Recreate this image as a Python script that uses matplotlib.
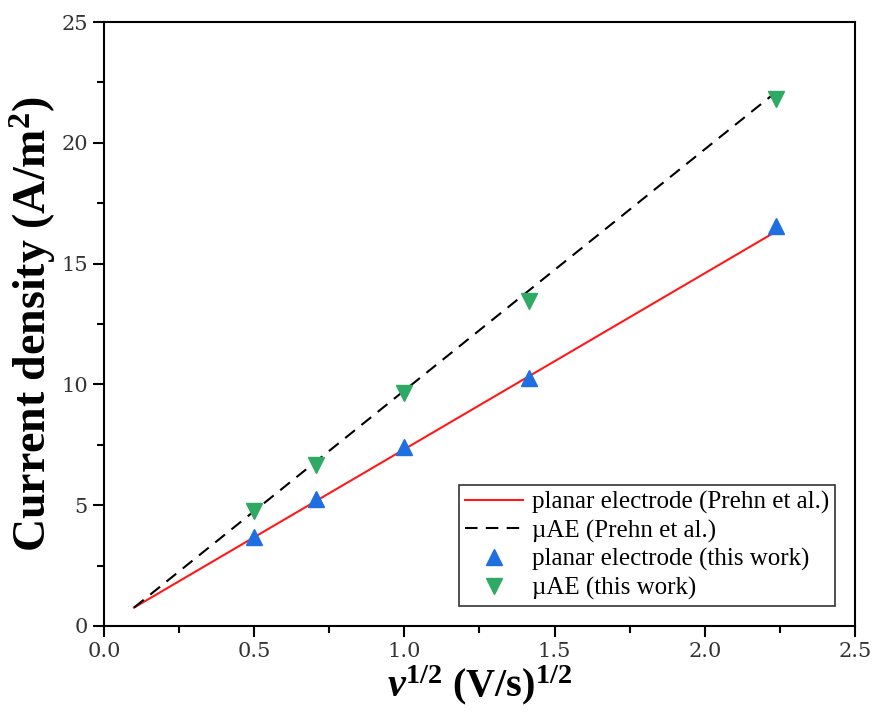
import matplotlib.pyplot as plt
from matplotlib.ticker import MultipleLocator

plt.rcParams['mathtext.fontset'] = 'custom'
plt.rcParams['mathtext.rm'] = 'Liberation Serif'
plt.rcParams['mathtext.it'] = 'Liberation Serif:italic'
plt.rcParams['mathtext.bf'] = 'Liberation Serif:bold'
plt.rcParams['mathtext.bfit'] = 'Liberation Serif:italic:bold'

# square root of scan rate, (V/s)^1/2
sqrt_scan_rate = [0.5, 0.707, 1.0, 1.414, 2.236]
planar_this_work = [3.68, 5.26, 7.41, 10.26, 16.55]
uae_this_work = [4.76, 6.66, 9.64, 13.47, 21.81]

# Prehn et al. reference lines
prehn_x = [0.1, 2.236]
prehn_planar = [0.76, 16.32]
prehn_uae = [0.76, 22.09]

fig = plt.figure(figsize=(8.81, 7.22), dpi=100)
ax = fig.add_axes([0.118, 0.133, 0.8525, 0.8365])

ax.plot(prehn_x, prehn_planar, color='#ff1a1a', lw=1.5, label='planar electrode (Prehn et al.)')
ax.plot(prehn_x, prehn_uae, color='black', lw=1.5, ls=(0, (6, 4)), label='\u00b5AE (Prehn et al.)')
ax.plot(sqrt_scan_rate, planar_this_work, ls='none', marker='^', ms=12,
        color='#1f6fe0', label='planar electrode (this work)')
ax.plot(sqrt_scan_rate, uae_this_work, ls='none', marker='v', ms=12,
        color='#2eaa64', label='\u00b5AE (this work)')

ax.set_xlim(0, 2.5)
ax.set_ylim(0, 25)
ax.xaxis.set_major_locator(MultipleLocator(0.5))
ax.xaxis.set_minor_locator(MultipleLocator(0.25))
ax.yaxis.set_major_locator(MultipleLocator(5))
ax.yaxis.set_minor_locator(MultipleLocator(2.5))
ax.set_xticklabels([f'{v:.1f}' for v in ax.get_xticks()])
ax.tick_params(which='major', direction='out', length=8, width=1.5, labelsize=15)
ax.tick_params(which='minor', direction='out', length=5, width=1.5)
for lab in ax.get_xticklabels() + ax.get_yticklabels():
    lab.set_fontfamily('DejaVu Serif')
    lab.set_color('#333333')
for sp in ax.spines.values():
    sp.set_linewidth(1.5)

ax.set_xlabel(r'$\mathbfit{v}^{\mathbf{1/2}}$ (V/s)$^{\mathbf{1/2}}$', fontsize=29,
              fontweight='bold', family='Liberation Serif', labelpad=2)
ax.set_ylabel(r'Current density (A/m$^{\mathbf{2}}$)', fontsize=33, fontweight='bold',
              family='Liberation Serif', labelpad=2)

leg = ax.legend(loc='lower right', prop={'family': 'Liberation Serif', 'size': 18},
                frameon=True, fancybox=False, framealpha=1, edgecolor='#333333',
                handlelength=2.3, handletextpad=0.35, borderaxespad=0.8,
                borderpad=0.25, labelspacing=0.22)
leg.get_frame().set_linewidth(1.2)

fig.savefig('out.png', dpi=100)
